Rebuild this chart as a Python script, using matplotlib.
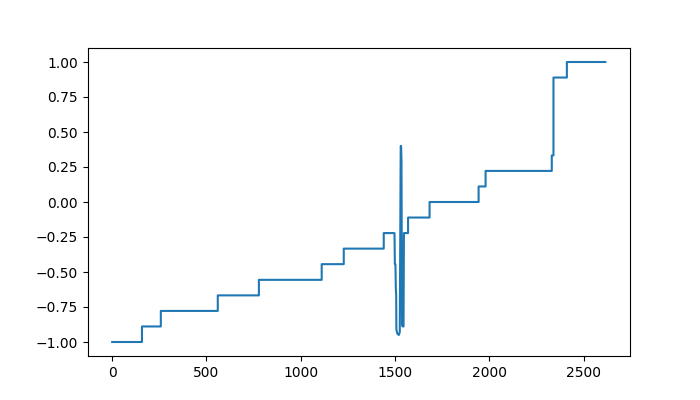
import matplotlib
matplotlib.use("Agg")
import matplotlib.pyplot as plt

# vertices of the trace (index, value)
t = [0, 158, 158, 258, 258, 560, 560, 778, 778, 1111, 1111, 1228, 1228,
     1440, 1440, 1497, 1499, 1502, 1504, 1506, 1507, 1512, 1520, 1525,
     1530, 1532, 1534, 1537, 1540, 1545, 1547, 1569, 1569, 1683, 1683,
     1943, 1943, 1980, 1980, 2331, 2331, 2340, 2340, 2411, 2411, 2615]
v = [-1.0, -1.0, -0.889, -0.889, -0.778, -0.778, -0.667, -0.667, -0.556,
     -0.556, -0.444, -0.444, -0.333, -0.333, -0.222, -0.222, -0.444,
     -0.444, -0.611, -0.667, -0.911, -0.94, -0.95, -0.93, 0.40, 0.40,
     0.30, -0.88, -0.889, -0.889, -0.222, -0.222, -0.111, -0.111, 0.0,
     0.0, 0.111, 0.111, 0.222, 0.222, 0.333, 0.333, 0.889, 0.889, 1.0, 1.0]

fig = plt.figure(figsize=(7, 4), dpi=100)
plt.plot(t, v)
plt.savefig("out.png")
